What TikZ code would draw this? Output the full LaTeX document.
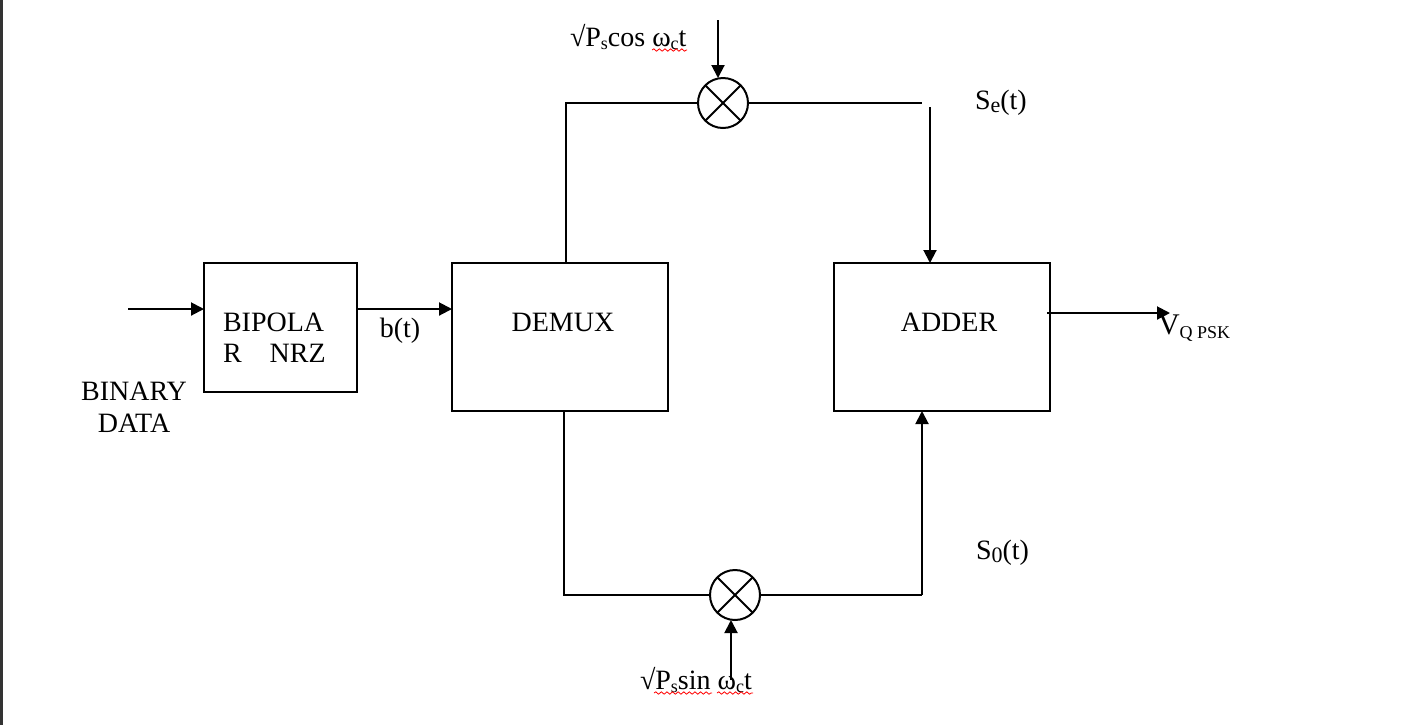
\documentclass[tikz,border=0pt]{standalone}
\usepackage{fontspec}
\setmainfont{Liberation Serif}
\usetikzlibrary{arrows.meta,decorations.pathmorphing}
\newcommand{\sbs}[1]{\raisebox{-1.8pt}{\fontsize{9}{10}\selectfont #1}}
\begin{document}
\begin{tikzpicture}[x=0.5pt,y=-0.5pt,
  blk/.style={draw,line width=1pt,inner sep=0pt,outer sep=0pt},
  mix/.style={draw,circle,line width=1pt,minimum size=25pt,inner sep=0pt,outer sep=0pt},
  txt/.style={inner sep=0pt,outer sep=0pt,font=\fontsize{14}{16}\selectfont},
  wire/.style={line width=1pt},
  arr/.style={line width=1pt,-{Triangle[length=6.5pt,width=6.5pt]}},
  squig/.style={red,line width=0.4pt,decorate,decoration={snake,amplitude=0.6pt,segment length=2.8pt}}]
\useasboundingbox (0,0) rectangle (1419,725);
\fill[black!80] (0,0) rectangle (3,725);

% blocks
\node[blk,minimum width=76.5pt,minimum height=64.5pt] (bip) at (280.5,327.5) {};
\node[blk,minimum width=108pt,minimum height=74pt] (demux) at (560,337) {};
\node[blk,minimum width=108pt,minimum height=74pt] (adder) at (942,337) {};
\node[mix] (mixT) at (723,103) {};
\node[mix] (mixB) at (735,595) {};
\draw[wire] (mixT.45) -- (mixT.225) (mixT.135) -- (mixT.315);
\draw[wire] (mixB.45) -- (mixB.225) (mixB.135) -- (mixB.315);

% texts
\node[txt,anchor=base west] (t1) at (223,331) {BIPOLA};
\node[txt,anchor=base west] (t2) at (223,362) {R\hspace{14pt}NRZ};
\node[txt,anchor=base] (t3) at (134,400) {BINARY};
\node[txt,anchor=base] (t4) at (134,432) {DATA};
\node[txt,anchor=base] (t5) at (400,337) {b(t)};
\node[txt,anchor=base] (t6) at (563,331) {DEMUX};
\node[txt,anchor=base] (t7) at (949,331) {ADDER};
\node[txt,anchor=base west] (t8) at (570,46) {√P\sbs{s}cos ω\sbs{c}t};
\node[txt,anchor=base west] (t9) at (640,689) {√P\sbs{s}sin ω\sbs{c}t};
\node[txt,anchor=base west] (t10) at (975,109) {S\raisebox{-1.5pt}{\fontsize{11}{12}\selectfont e}(t)};
\node[txt,anchor=base west] (t11) at (976,559) {S\raisebox{-1.5pt}{\fontsize{11}{12}\selectfont 0}(t)};
\node[txt,anchor=base west] (t12) at (1158,334) {\fontsize{15}{17}\selectfont V\raisebox{-2pt}{\fontsize{9}{10}\selectfont Q PSK}};

% spell-check marks
\draw[squig] (652,50) -- (687,50);
\draw[squig] (654,693) -- (712,693);
\draw[squig] (717,693) -- (753,693);

% coordinates
\coordinate (inL) at (128,309);
\coordinate (dT) at (566,263);
\coordinate (rT) at (922,103);
\coordinate (vT) at (930,107);
\coordinate (topIn) at (718,20);
\coordinate (dB) at (564,411);
\coordinate (rB) at (922,595);
\coordinate (botIn) at (731,680);
\coordinate (outS) at (1047,313);
\coordinate (outE) at (1170,313);

% connectors
\draw[arr] (inL) -- (inL -| bip.west);
\draw[arr] (bip.east |- inL) -- (demux.west |- inL);
\draw[wire] (dT) |- (mixT.west);
\draw[wire] (mixT.east) -- (rT);
\draw[arr] (vT) -- (vT |- adder.north);
\draw[arr] (topIn) -- (topIn |- mixT.north);
\draw[wire] (dB) |- (mixB.west);
\draw[wire] (mixB.east) -- (rB);
\draw[arr] (rB) -- (rB |- adder.south);
\draw[arr] (botIn) -- (botIn |- mixB.south);
\draw[arr] (outS) -- (outE);
\end{tikzpicture}
\end{document}
